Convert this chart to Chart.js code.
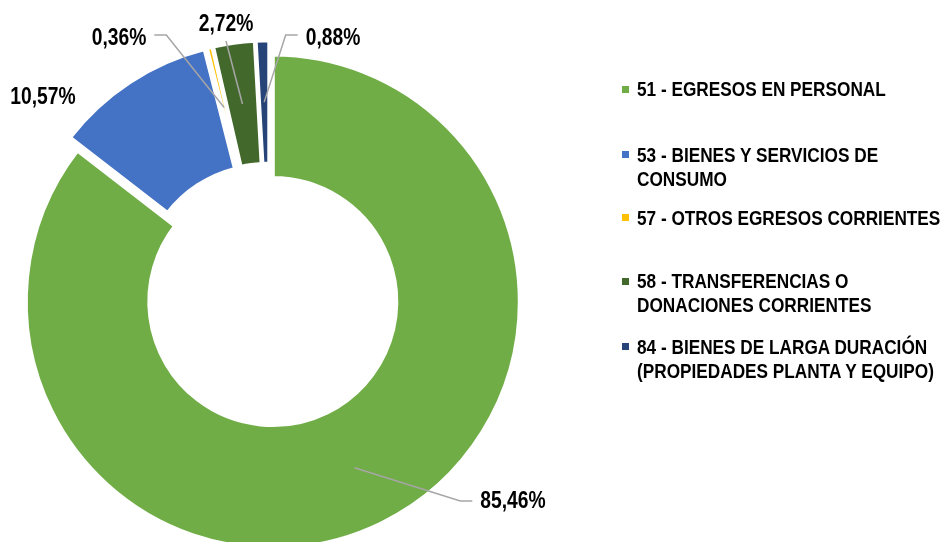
<!DOCTYPE html>
<html>
<head>
<meta charset="utf-8">
<script src="https://cdn.jsdelivr.net/npm/chart.js@4"></script>
<style>
  body { margin: 0; width: 944px; height: 542px; overflow: hidden; background: #fff; }
  #wrap { position: relative; width: 944px; height: 600px; }
  #chart { position: absolute; left: 0; top: 0; }
  .leg-item { position: absolute; left: 622px; width: 340px; }
  .leg-box { position: absolute; left: 0; width: 7px; height: 7px; }
  .leg-text {
    position: absolute; left: 15px; width: 388px;
    font: bold 21px "Liberation Sans", Arial, sans-serif;
    line-height: 24px; color: #000;
    transform: scaleX(0.82); transform-origin: 0 0;
  }
</style>
</head>
<body>
<div id="wrap">
  <canvas id="chart" width="944" height="600"></canvas>
  <div id="legend"></div>
</div>
<script>
// Datos del gráfico
const categories = [
    "51 - EGRESOS EN PERSONAL",
    "53 - BIENES Y SERVICIOS DE CONSUMO",
    "57 - OTROS EGRESOS CORRIENTES",
    "58 - TRANSFERENCIAS O DONACIONES CORRIENTES",
    "84 - BIENES DE LARGA DURACIÓN (PROPIEDADES PLANTA Y EQUIPO)"
];
const percentages = [85.46, 10.57, 0.36, 2.72, 0.88];
const colors = ["#70AD47", "#4472C4", "#FFC000", "#43682B", "#264478"];

// Posición de las etiquetas y de la leyenda (solo diseño)
const EXPLODE = 7.5;
const NARROW = 0.82;
const labelLayout = [
    { x: 513, y: 502, ly: 501, lead: "left" },
    { x: 43, y: 98, lead: null },
    { x: 119, y: 39, ly: 35, lead: "right" },
    { x: 226, y: 25, lead: "below" },
    { x: 333, y: 39, ly: 35, lead: "left" }
];
const legendCenters = [89, 154.5, 217.5, 281, 346.5];

// Separar cada porción desde el centro
const explodePlugin = {
    id: "explode",
    afterDatasetsUpdate(chart) {
        chart.getDatasetMeta(0).data.forEach(arc => {
            const mid = (arc.startAngle + arc.endAngle) / 2;
            arc.x += Math.cos(mid) * EXPLODE;
            arc.y += Math.sin(mid) * EXPLODE;
        });
    }
};

// Etiquetas de porcentaje con líneas guía
const labelPlugin = {
    id: "pctLabels",
    afterDatasetsDraw(chart) {
        const ctx = chart.ctx;
        const meta = chart.getDatasetMeta(0);
        ctx.save();
        ctx.font = 'bold 23.5px "Liberation Sans", Arial, sans-serif';
        ctx.textAlign = "center";
        ctx.textBaseline = "middle";
        meta.data.forEach((arc, i) => {
            const pos = labelLayout[i];
            const text = percentages[i].toFixed(2).replace(".", ",") + "%";
            const w = ctx.measureText(text).width * NARROW;
            const anchor = arc.getCenterPoint();
            ctx.strokeStyle = "#A6A6A6";
            ctx.lineWidth = 1.5;
            if (pos.lead) {
                ctx.beginPath();
                if (pos.lead === "left") {
                    const endX = pos.x - w / 2 - 8;
                    ctx.moveTo(anchor.x, anchor.y);
                    ctx.lineTo(endX - 12, pos.ly);
                    ctx.lineTo(endX, pos.ly);
                } else if (pos.lead === "right") {
                    const endX = pos.x + w / 2 + 8;
                    ctx.moveTo(anchor.x, anchor.y);
                    ctx.lineTo(endX + 12, pos.ly);
                    ctx.lineTo(endX, pos.ly);
                } else {
                    ctx.moveTo(anchor.x, anchor.y);
                    ctx.lineTo(pos.x, pos.y + 16);
                }
                ctx.stroke();
            }
            ctx.save();
            ctx.translate(pos.x, pos.y);
            ctx.scale(NARROW, 1);
            ctx.fillStyle = "#000";
            ctx.fillText(text, 0, 0);
            ctx.restore();
        });
        ctx.restore();
    }
};

new Chart(document.getElementById("chart").getContext("2d"), {
    type: "doughnut",
    data: {
        labels: categories,
        datasets: [{
            data: percentages,
            backgroundColor: colors,
            borderColor: "#FFFFFF",
            borderWidth: 4,
            hoverBorderWidth: 4
        }]
    },
    options: {
        responsive: false,
        animation: false,
        cutout: "50%",
        layout: { padding: { left: 20.5, top: 45.8, right: 425.5, bottom: 56.2 } },
        plugins: {
            legend: { display: false },
            tooltip: { enabled: false }
        }
    },
    plugins: [explodePlugin, labelPlugin]
});

// Leyenda en HTML
const legend = document.getElementById("legend");
categories.forEach((name, i) => {
    const item = document.createElement("div");
    item.className = "leg-item";
    item.style.top = (legendCenters[i] - 12) + "px";
    const box = document.createElement("span");
    box.className = "leg-box";
    box.style.background = colors[i];
    box.style.top = "8.5px";
    const txt = document.createElement("span");
    txt.className = "leg-text";
    txt.textContent = name;
    item.appendChild(box);
    item.appendChild(txt);
    legend.appendChild(item);
});
</script>
</body>
</html>
